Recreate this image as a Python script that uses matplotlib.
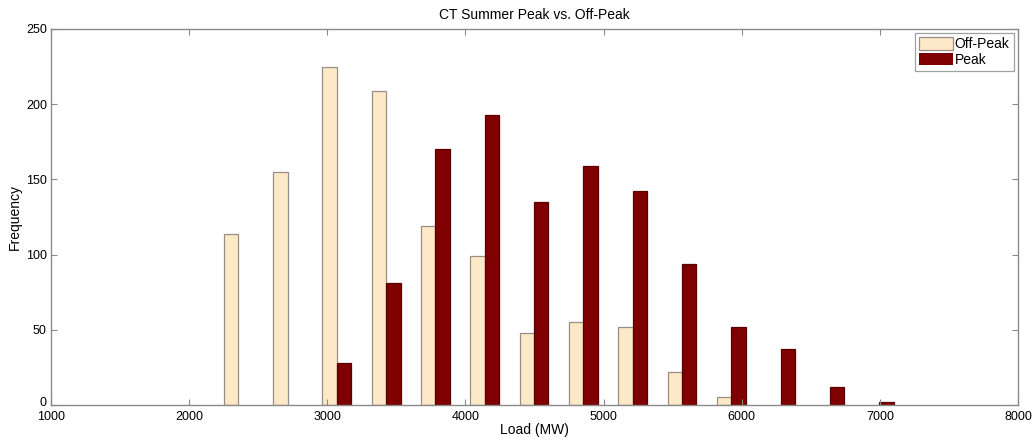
import matplotlib
matplotlib.use("Agg")
import matplotlib.pyplot as plt
from matplotlib.transforms import ScaledTranslation

plt.rcParams["font.family"] = ["Liberation Sans", "DejaVu Sans"]

# Histogram bin centres (MW) and counts per bin
bin_centers = [2355, 2712, 3069, 3426, 3783, 4140, 4497,
               4854, 5211, 5568, 5925, 6282, 6639, 6996]
off_peak = [114, 155, 225, 209, 119, 99, 48, 55, 52, 22, 5, 0, 0, 0]
peak = [0, 0, 28, 81, 170, 193, 135, 159, 142, 94, 52, 37, 12, 2]

series_labels = ["Off-Peak", "Peak"]
x_ticks = [1000, 2000, 3000, 4000, 5000, 6000, 7000, 8000]
y_ticks = [0, 50, 100, 150, 200, 250]

bar_w = 104
off_color = "#FDE8C8"
peak_color = "#7F0000"
edge_gray = "#8a8a8a"

fig = plt.figure(figsize=(10.36, 4.43), dpi=100)
ax = fig.add_axes([51 / 1036, 38 / 443, 967 / 1036, 376 / 443])

# empty bins get no outline so nothing shows on the baseline
ax.bar([c - bar_w / 2 for c in bin_centers], off_peak, width=bar_w,
       color=off_color, edgecolor="#9a8f86",
       linewidth=[0.9 if v > 0 else 0 for v in off_peak],
       label=series_labels[0])
ax.bar([c + bar_w / 2 for c in bin_centers], peak, width=bar_w,
       color=peak_color, edgecolor="#5a0000",
       linewidth=[0.9 if v > 0 else 0 for v in peak],
       label=series_labels[1])

ax.set_xlim(1000, 8000)
ax.set_ylim(0, 250)
ax.set_xticks(x_ticks)
ax.set_yticks(y_ticks)
ax.tick_params(direction="in", length=4, width=0.8, color=edge_gray,
               top=True, right=True, labelsize=9, pad=3)
ax.tick_params(axis="x", pad=4)
for sp in ax.spines.values():
    sp.set_color(edge_gray)
    sp.set_linewidth(1.0)

# lift the "0" label a little so it sits clear of the first x label
fig.canvas.draw()
ylabels = ax.get_yticklabels()
ylabels[0].set_transform(ylabels[0].get_transform()
                         + ScaledTranslation(0, 4 / 100, fig.dpi_scale_trans))

ax.set_title("CT Summer Peak vs. Off-Peak", fontsize=10, pad=7)
ax.set_xlabel("Load (MW)", fontsize=10, labelpad=0)
ax.set_ylabel("Frequency", fontsize=10, labelpad=3)

leg = ax.legend(loc="upper right", fontsize=10, frameon=True, fancybox=False,
                borderpad=0.3, handlelength=2.4, handleheight=1.0,
                handletextpad=0.15, labelspacing=0.12, borderaxespad=0.3)
leg.get_frame().set_edgecolor(edge_gray)
leg.get_frame().set_linewidth(0.9)

fig.savefig("out.png", dpi=100, facecolor="white")
